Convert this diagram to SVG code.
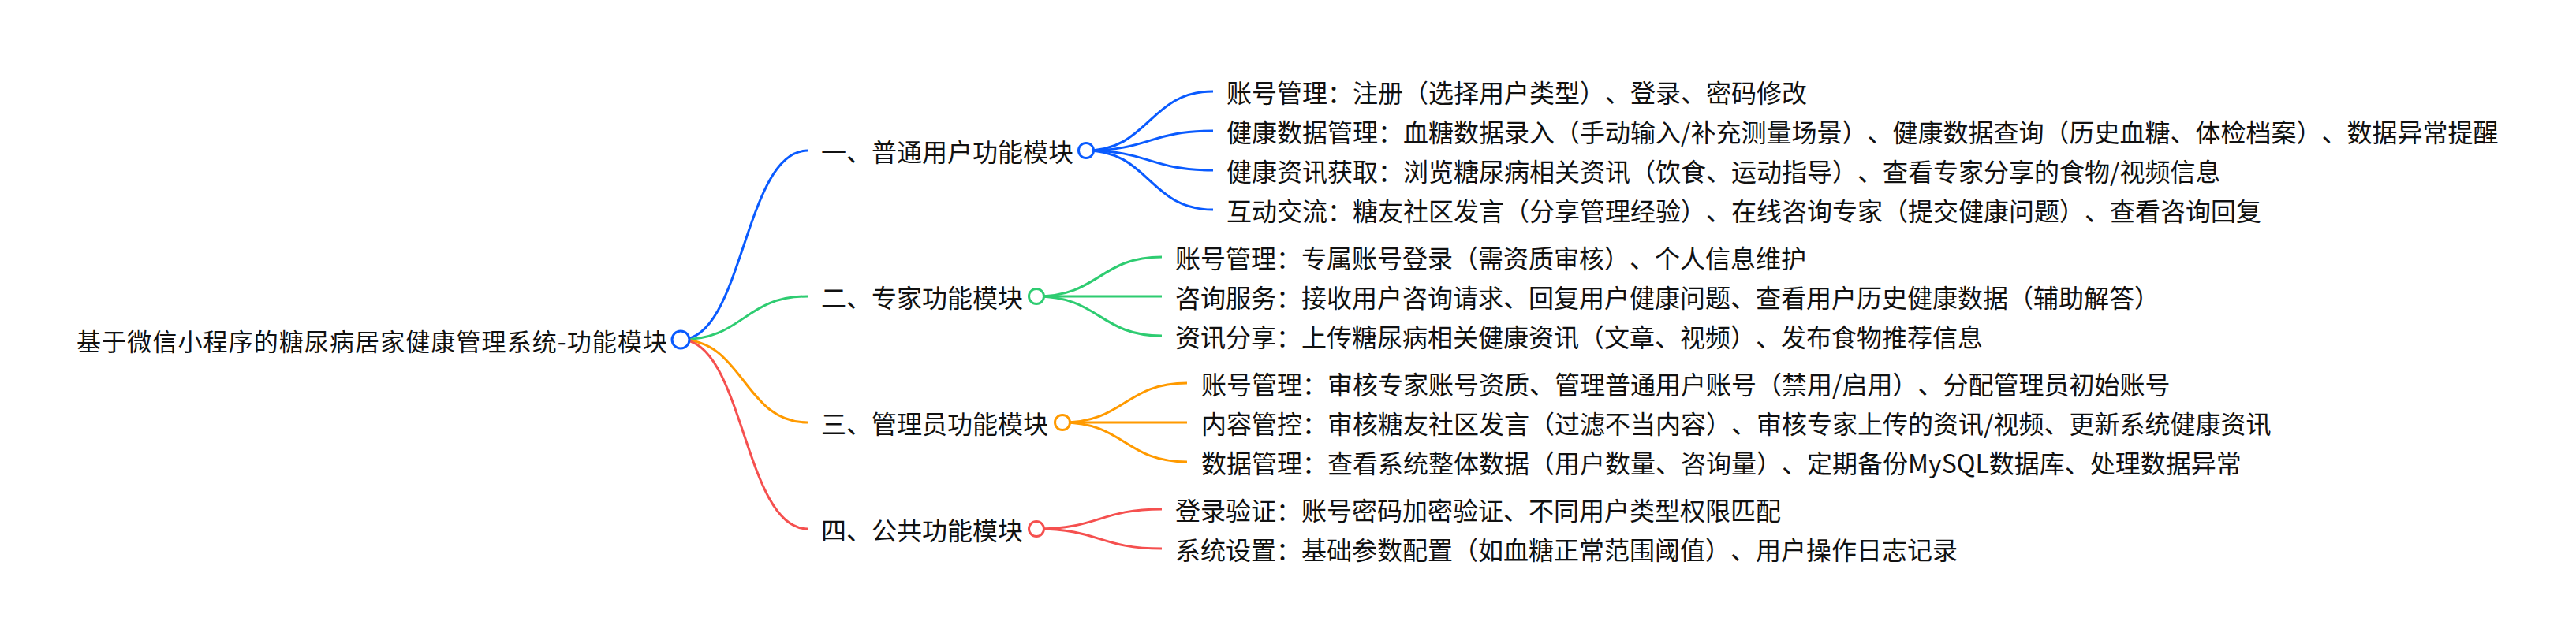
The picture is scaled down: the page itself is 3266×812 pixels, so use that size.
<svg xmlns="http://www.w3.org/2000/svg" width="3266" height="812" viewBox="0 0 3266 812">
<style>
text{font-family:"Noto Sans CJK SC","Noto Sans",sans-serif;fill:#111;text-spacing-trim:space-all;}
.root{font-size:31px;}
.l1{font-size:32px;}
.l2{font-size:32px;}
.lk{fill:none;stroke-width:3;}
.dot{fill:#fff;stroke-width:3;}
.b{stroke:#0A5BFF;}
.g{stroke:#2ECC71;}
.o{stroke:#FF9A00;}
.r{stroke:#F5504F;}
</style>
<rect width="3266" height="812" fill="#fff"/>
<g id="connectors">
<path class="lk b" d="M863,431 C943,431 943,191 1024,191"/>
<path class="lk g" d="M863,431 C943,431 943,376 1024,376"/>
<path class="lk o" d="M863,431 C943,431 943,536 1024,536"/>
<path class="lk r" d="M863,431 C943,431 943,671 1024,671"/>
<path class="lk b" d="M1377,191 C1457,191 1457,116 1538,116"/>
<path class="lk b" d="M1377,191 C1457,191 1457,166 1538,166"/>
<path class="lk b" d="M1377,191 C1457,191 1457,216 1538,216"/>
<path class="lk b" d="M1377,191 C1457,191 1457,266 1538,266"/>
<path class="lk g" d="M1314,376 C1394,376 1394,326 1473,326"/>
<path class="lk g" d="M1314,376 L1473,376"/>
<path class="lk g" d="M1314,376 C1394,376 1394,426 1473,426"/>
<path class="lk o" d="M1347,536 C1426,536 1426,486 1505,486"/>
<path class="lk o" d="M1347,536 L1505,536"/>
<path class="lk o" d="M1347,536 C1426,536 1426,586 1505,586"/>
<path class="lk r" d="M1314,671 C1394,671 1394,646 1473,646"/>
<path class="lk r" d="M1314,671 C1394,671 1394,696 1473,696"/>
</g>
<g id="root">
<text class="root" x="97" y="445" textLength="749">基于微信小程序的糖尿病居家健康管理系统-功能模块</text>
<circle class="dot b" cx="863" cy="431" r="11"/>
</g>
<g id="n1">
<text class="l1" x="1041" y="205">一、普通用户功能模块</text>
<circle class="dot b" cx="1377" cy="191" r="9.5"/>
</g>
<g id="n1a"><text class="l2" x="1555" y="130">账号管理：注册（选择用户类型）、登录、密码修改</text></g>
<g id="n1b"><text class="l2" x="1555" y="180">健康数据管理：血糖数据录入（手动输入/补充测量场景）、健康数据查询（历史血糖、体检档案）、数据异常提醒</text></g>
<g id="n1c"><text class="l2" x="1555" y="230">健康资讯获取：浏览糖尿病相关资讯（饮食、运动指导）、查看专家分享的食物/视频信息</text></g>
<g id="n1d"><text class="l2" x="1555" y="280">互动交流：糖友社区发言（分享管理经验）、在线咨询专家（提交健康问题）、查看咨询回复</text></g>
<g id="n2">
<text class="l1" x="1041" y="390">二、专家功能模块</text>
<circle class="dot g" cx="1314" cy="376" r="9.5"/>
</g>
<g id="n2a"><text class="l2" x="1490" y="340">账号管理：专属账号登录（需资质审核）、个人信息维护</text></g>
<g id="n2b"><text class="l2" x="1490" y="390">咨询服务：接收用户咨询请求、回复用户健康问题、查看用户历史健康数据（辅助解答）</text></g>
<g id="n2c"><text class="l2" x="1490" y="440">资讯分享：上传糖尿病相关健康资讯（文章、视频）、发布食物推荐信息</text></g>
<g id="n3">
<text class="l1" x="1041" y="550">三、管理员功能模块</text>
<circle class="dot o" cx="1347" cy="536" r="9.5"/>
</g>
<g id="n3a"><text class="l2" x="1523" y="500">账号管理：审核专家账号资质、管理普通用户账号（禁用/启用）、分配管理员初始账号</text></g>
<g id="n3b"><text class="l2" x="1523" y="550">内容管控：审核糖友社区发言（过滤不当内容）、审核专家上传的资讯/视频、更新系统健康资讯</text></g>
<g id="n3c"><text class="l2" x="1523" y="600">数据管理：查看系统整体数据（用户数量、咨询量）、定期备份MySQL数据库、处理数据异常</text></g>
<g id="n4">
<text class="l1" x="1041" y="685">四、公共功能模块</text>
<circle class="dot r" cx="1314" cy="671" r="9.5"/>
</g>
<g id="n4a"><text class="l2" x="1490" y="660">登录验证：账号密码加密验证、不同用户类型权限匹配</text></g>
<g id="n4b"><text class="l2" x="1490" y="710">系统设置：基础参数配置（如血糖正常范围阈值）、用户操作日志记录</text></g>
</svg>
